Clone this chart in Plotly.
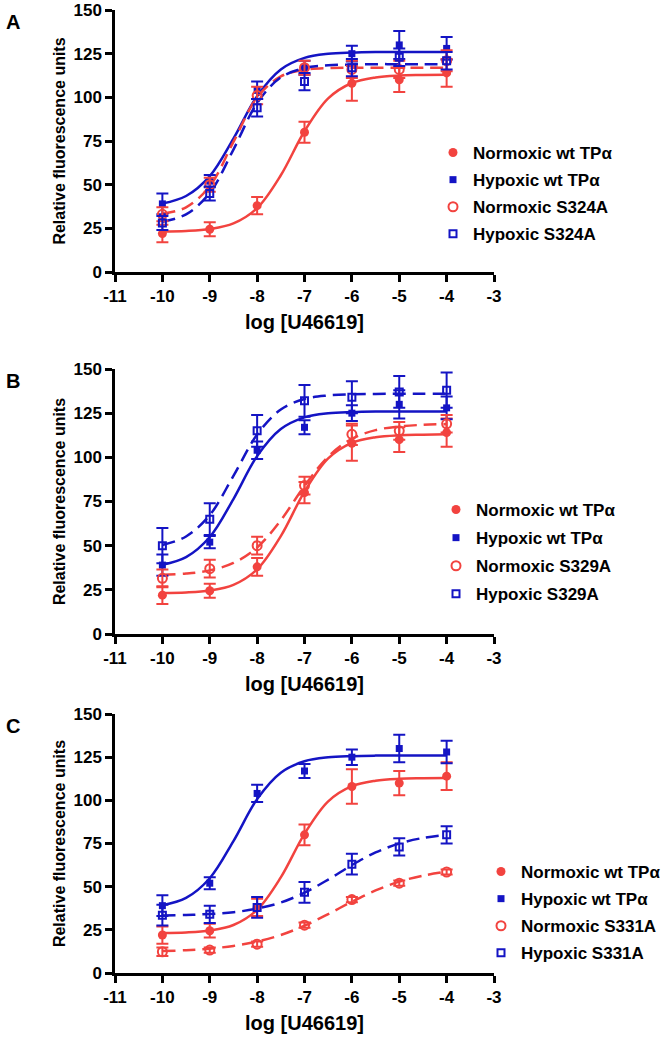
import plotly.graph_objects as go

# x positions of the measured points and of the fitted curves
log_conc = [-10, -9, -8, -7, -6, -5, -4]
curve_x = [-10, -9.5, -9, -8.5, -8, -7.5, -7, -6.5, -6, -5.5, -5, -4.5, -4]

# tick labels
x_ticks = [-11, -10, -9, -8, -7, -6, -5, -4, -3]
x_ticktext = ["-11", "-10", "-9", "-8", "-7", "-6", "-5", "-4", "-3"]
y_ticks = [0, 25, 50, 75, 100, 125, 150]

# wild type (same in every panel)
norm_wt = [22, 24.5, 38, 80, 108, 110, 114]
norm_wt_err = [5, 4, 5, 6, 10, 7, 8]
norm_wt_fit = [23.2, 23.5, 24.6, 27.8, 36.6, 55.4, 80.6, 99.4, 108.2, 111.4, 112.5, 112.8, 113]

hyp_wt = [39, 52, 104, 117, 125, 130, 128]
hyp_wt_err = [6, 3.5, 5, 4, 4.5, 8, 6.5]
hyp_wt_fit = [39.2, 43.5, 54.9, 76.4, 100.7, 116.0, 122.6, 124.9, 125.6, 125.9, 126, 126, 126]

# panel A mutant S324A
norm_s324a = [33, 50, 101, 117, 116, 116, 121]
norm_s324a_err = [4, 4, 5, 4, 5, 5, 6]
norm_s324a_fit = [33.3, 37.0, 49.1, 74.5, 99.9, 112.0, 115.7, 116.7, 116.9, 117, 117, 117, 117]
hyp_s324a = [28, 45, 94, 109, 117, 123, 121]
hyp_s324a_err = [4, 4, 5, 5, 5, 5, 5]
hyp_s324a_fit = [28.8, 33.0, 45.3, 70.1, 96.7, 111.4, 116.7, 118.3, 118.8, 119, 119, 119, 119]

# panel B mutant S329A
norm_s329a = [31.5, 37, 50, 84, 113, 115, 119]
norm_s329a_err = [5, 5, 5, 5, 6, 5, 5]
norm_s329a_fit = [33.5, 34.2, 36.0, 40.2, 49.0, 64.4, 83.8, 100.4, 110.5, 115.4, 117.5, 118.4, 118.8]
hyp_s329a = [50, 65, 115, 132, 134, 137, 138]
hyp_s329a_err = [10, 9, 9, 9, 9, 9, 10]
hyp_s329a_fit = [50.4, 55.2, 67.3, 89.5, 112.9, 127.1, 133.0, 135.0, 135.7, 135.9, 136, 136, 136]

# panel C mutant S331A
norm_s331a = [12.3, 13.3, 16.7, 27.7, 42.5, 52, 58.5]
norm_s331a_err = [2.5, 1.5, 1.5, 1.5, 1.5, 1.5, 1.5]
norm_s331a_fit = [12.7, 13.2, 14.1, 15.7, 18.2, 22.0, 27.4, 34.1, 41.3, 47.8, 52.9, 56.4, 58.7]
hyp_s331a = [33.5, 34, 38, 46.7, 63, 73, 80]
hyp_s331a_err = [6, 5, 6, 6, 6, 5, 5]
hyp_s331a_fit = [33.3, 33.6, 34.2, 35.2, 37.3, 40.8, 46.5, 54.1, 62.5, 69.8, 75.0, 78.2, 80.0]

panel_letters = ["A", "B", "C"]
mutants = ["S324A", "S329A", "S331A"]

RED = "#f2433f"
BLUE = "#1414c4"
FONT = "Liberation Sans, Arial, sans-serif"

W, H = 670, 1038
# pixel boxes of the three plot areas (top, bottom)
boxes = [(10, 272), (369, 634), (714, 973)]
x0, x1 = 115, 494
legend_pos = [(433, 135), (436, 492), (481, 854)]
legend_gap = [2, 3, 2]

mut_data = [
    (norm_s324a, norm_s324a_err, norm_s324a_fit, hyp_s324a, hyp_s324a_err, hyp_s324a_fit),
    (norm_s329a, norm_s329a_err, norm_s329a_fit, hyp_s329a, hyp_s329a_err, hyp_s329a_fit),
    (norm_s331a, norm_s331a_err, norm_s331a_fit, hyp_s331a, hyp_s331a_err, hyp_s331a_fit),
]

fig = go.Figure()

for i in range(3):
    sfx = "" if i == 0 else str(i + 1)
    xa, ya = "x" + sfx, "y" + sfx
    leg = "legend" + sfx
    nm, nm_err, nm_fit, hm, hm_err, hm_fit = mut_data[i]
    mut = mutants[i]

    # fitted curves
    fits = [
        (norm_wt_fit, RED, "solid"),
        (hyp_wt_fit, BLUE, "solid"),
        (nm_fit, RED, "13px,7px"),
        (hm_fit, BLUE, "13px,7px"),
    ]
    for yv, col, dash in fits:
        fig.add_trace(go.Scatter(
            x=curve_x, y=yv, mode="lines", line_shape="spline",
            line=dict(color=col, width=2.5, dash=dash),
            showlegend=False, hoverinfo="skip", xaxis=xa, yaxis=ya,
        ))

    # measured points with error bars
    pts = [
        ("Normoxic wt TP\u03b1", norm_wt, norm_wt_err, RED,
         dict(symbol="circle", size=9, color=RED)),
        ("Hypoxic wt TP\u03b1", hyp_wt, hyp_wt_err, BLUE,
         dict(symbol="square", size=7, color=BLUE)),
        ("Normoxic " + mut, nm, nm_err, RED,
         dict(symbol="circle-open", size=9, color=RED, line=dict(width=2))),
        ("Hypoxic " + mut, hm, hm_err, BLUE,
         dict(symbol="square-open", size=7, color=BLUE, line=dict(width=2))),
    ]
    for k, (name, yv, err, col, mk) in enumerate(pts):
        fig.add_trace(go.Scatter(
            x=log_conc, y=yv, mode="markers", name=name, marker=mk,
            error_y=dict(type="data", array=err, color=col, thickness=2, width=6),
            legend=leg, legendgroup=f"{i}-{k}", xaxis=xa, yaxis=ya,
        ))

    top, bot = boxes[i]
    ydom = [1 - bot / H, 1 - top / H]
    axis_common = dict(
        showgrid=False, zeroline=False, showline=True, linecolor="black",
        linewidth=2.5, ticks="outside", ticklen=7, tickwidth=2.5, tickcolor="black",
        automargin=False, ticklabeloverflow="allow",
        tickfont=dict(family=FONT, size=17, color="black", weight="bold"),
    )
    fig.update_layout({
        "xaxis" + sfx: dict(
            domain=[x0 / W, x1 / W], anchor=ya, range=[-11, -3],
            tickmode="array", tickvals=x_ticks, ticktext=x_ticktext,
            title=dict(text="<b>log [U46619]</b>", standoff=10,
                       font=dict(family=FONT, size=20, color="black")),
            **axis_common,
        ),
        "yaxis" + sfx: dict(
            domain=ydom, anchor=xa, range=[0, 150],
            tickmode="array", tickvals=y_ticks,
            title=dict(text="<b>Relative fluorescence units</b>", standoff=4,
                       font=dict(family=FONT, size=16, color="black")),
            **axis_common,
        ),
        leg: dict(
            x=legend_pos[i][0] / W, y=1 - legend_pos[i][1] / H,
            xanchor="left", yanchor="top", tracegroupgap=legend_gap[i],
            bgcolor="rgba(0,0,0,0)",
            font=dict(family=FONT, size=17, color="black", weight="bold"),
        ),
    })
    fig.add_annotation(
        text="<b>" + panel_letters[i] + "</b>", xref="paper", yref="paper",
        x=13 / W, y=1 - (top + 12) / H, xanchor="center", yanchor="middle",
        showarrow=False, font=dict(family=FONT, size=20, color="black"),
    )

fig.update_layout(
    width=W, height=H, margin=dict(l=0, r=0, t=0, b=0),
    plot_bgcolor="white", paper_bgcolor="white",
)

# the page's default body margin would push the figure 8px down and right
fig.write_html(
    "out.html",
    config={"displayModeBar": False},
    post_script="document.body.style.margin='0px';",
)
